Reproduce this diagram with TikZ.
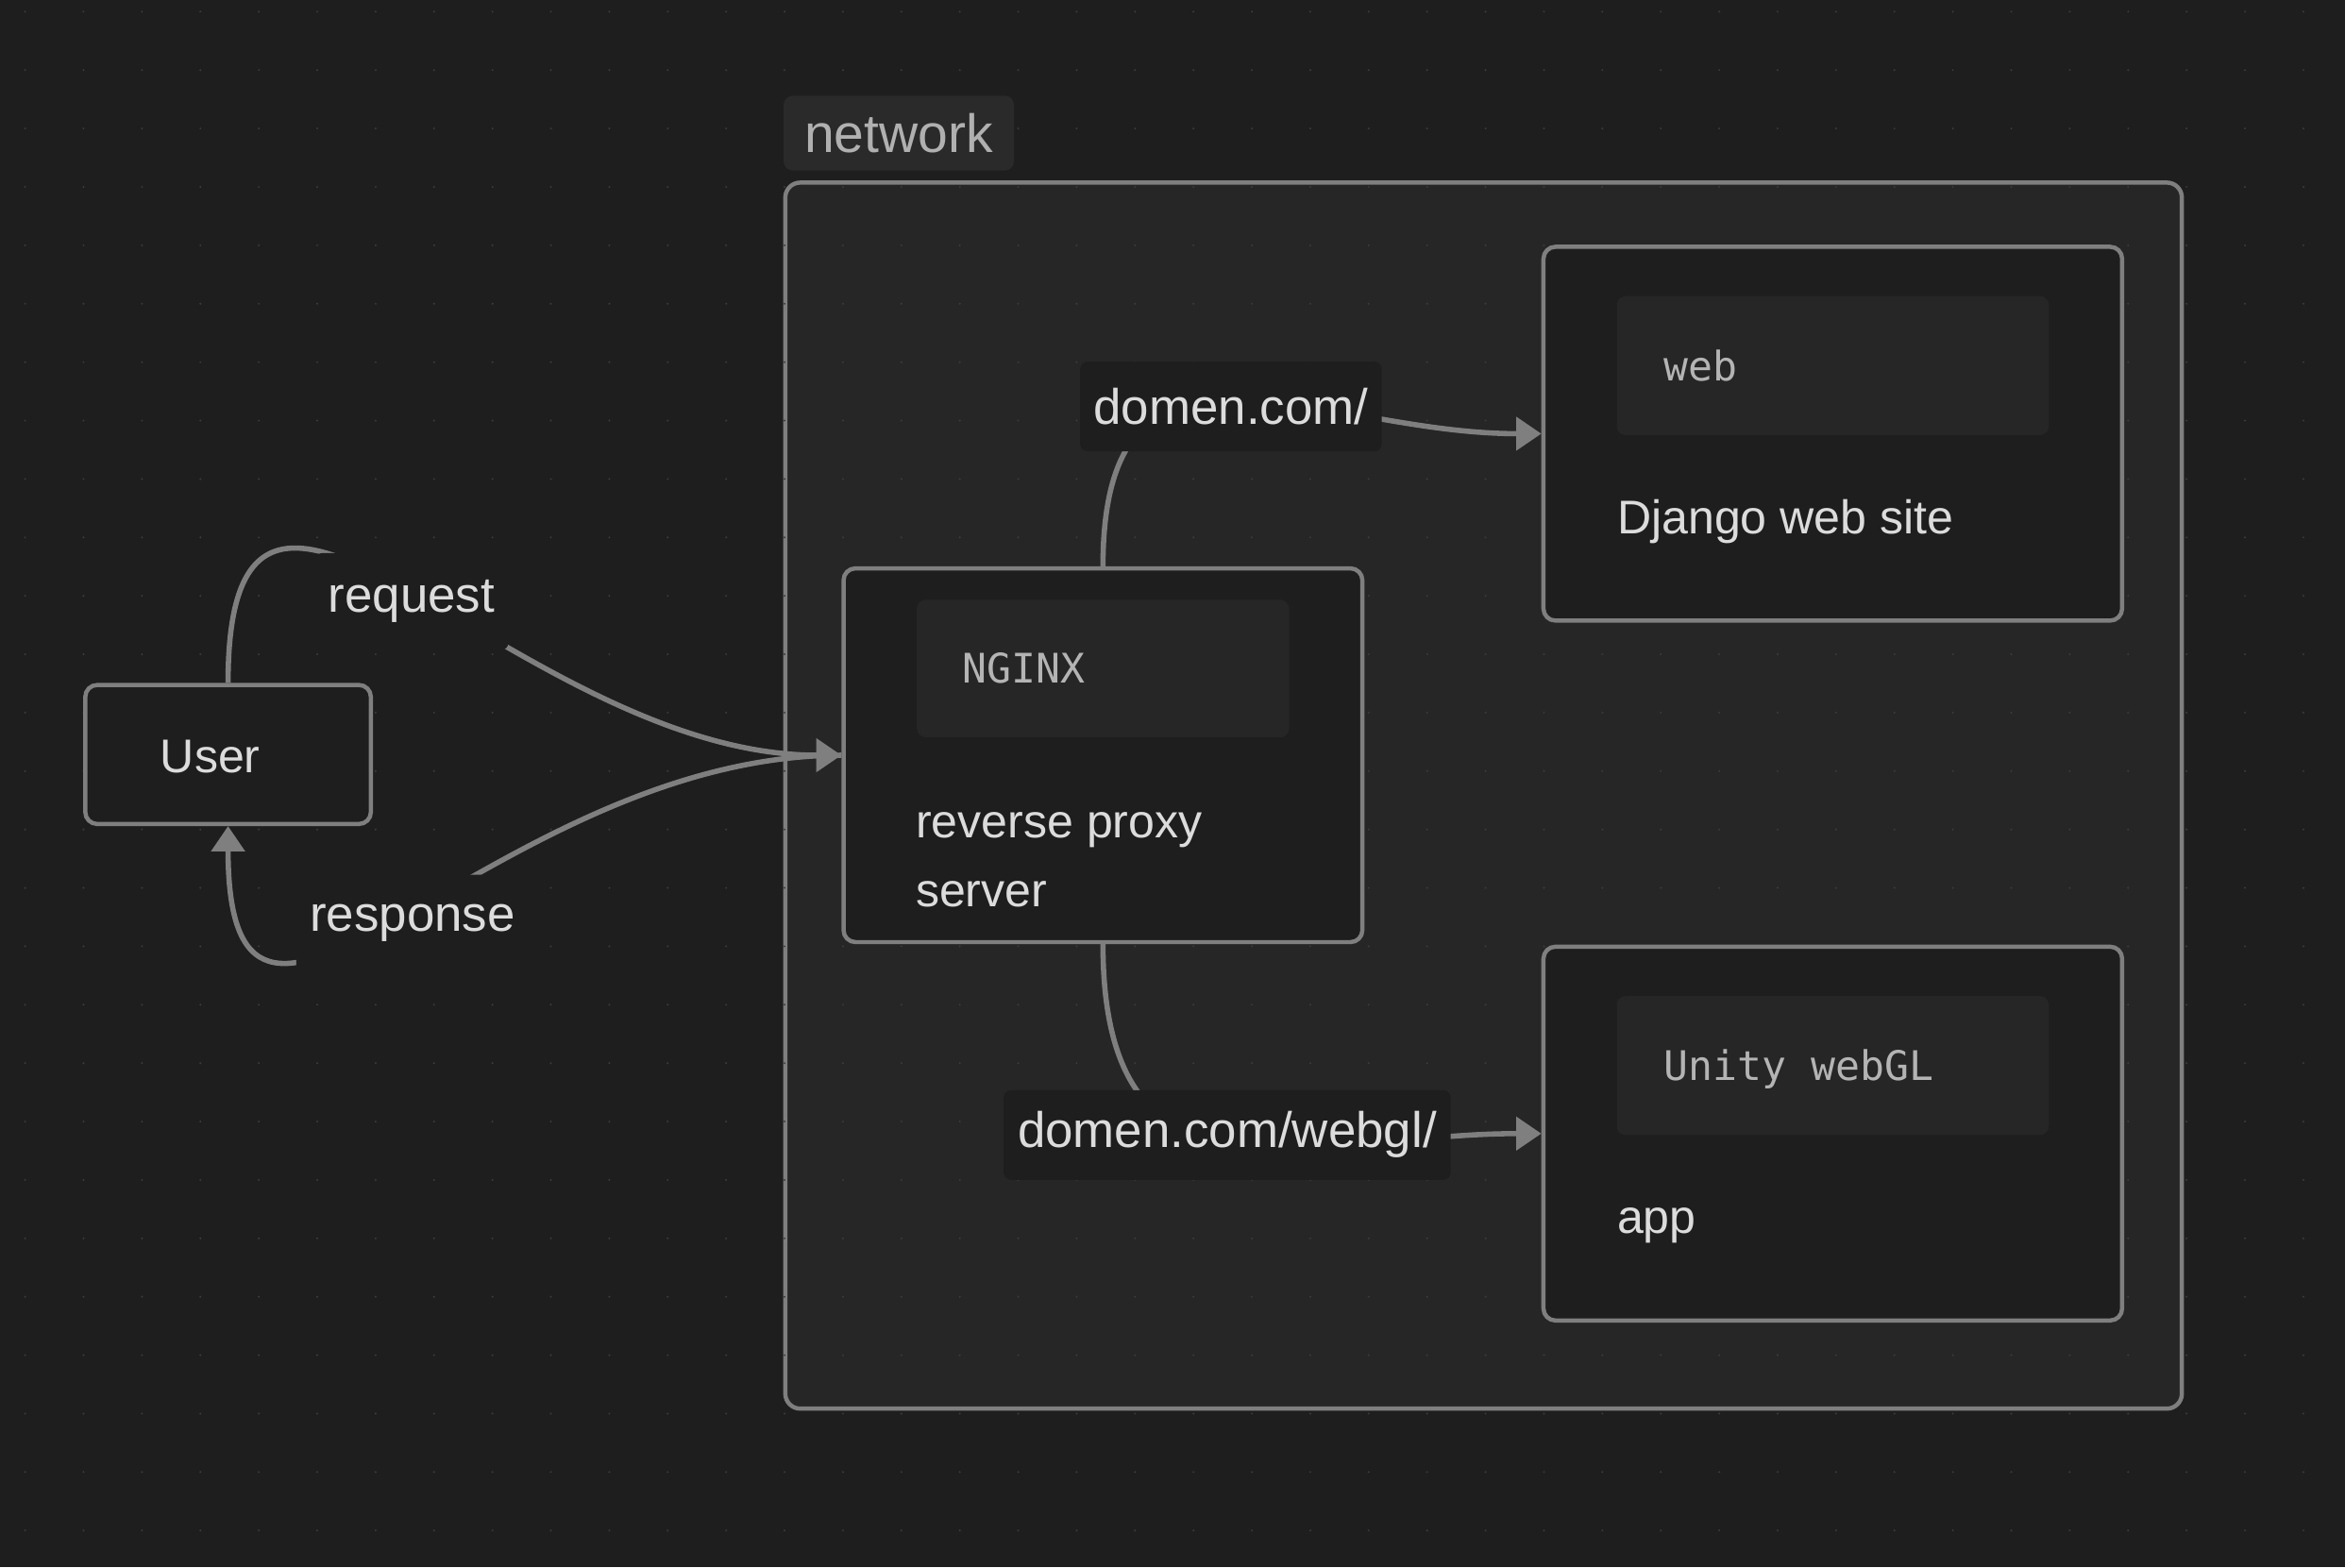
\documentclass[tikz,border=0pt]{standalone}
\usepackage{fontspec}
\setmainfont{Liberation Sans}
\setmonofont{DejaVu Sans Mono}
\usetikzlibrary{arrows.meta}
\definecolor{bgc}{HTML}{1E1E1E}
\definecolor{netc}{HTML}{262626}
\definecolor{linec}{HTML}{7F7F7F}
\definecolor{txtc}{HTML}{DCDCDC}
\definecolor{codec}{HTML}{B4B4B4}
\definecolor{dotc}{HTML}{3C3C3C}
\definecolor{tagc}{HTML}{2A2A2A}
\definecolor{tagtxt}{HTML}{B0B0B0}
\tikzstyle{card}=[rectangle, draw=linec, line width=1.6pt, rounded corners=0.16cm, fill=bgc, inner sep=0pt]
\tikzstyle{group}=[rectangle, draw=linec, line width=1.6pt, rounded corners=0.2cm, fill=netc, inner sep=0pt]
\tikzstyle{codebox}=[rectangle, rounded corners=0.12cm, fill=netc, inner sep=0pt]
\tikzstyle{cardtext}=[text=txtc, inner sep=0pt, anchor=base west, font=\fontsize{18}{26.5}\selectfont]
\tikzstyle{codetext}=[text=codec, inner sep=0pt, anchor=base west, font=\ttfamily\fontsize{15.5}{18}\selectfont]
\tikzstyle{link}=[draw=linec, line width=2pt]
\tikzstyle{toarrow}=[-{Triangle[length=9.6pt,width=12.5pt]}]
\tikzstyle{linklabel}=[fill=bgc, text=txtc, rounded corners=0.1cm, minimum height=1.2cm, inner xsep=0.18cm, font=\fontsize{19}{22}\selectfont]

\begin{document}
\begin{tikzpicture}[x=0.02cm, y=-0.02cm]
\useasboundingbox (0,0) rectangle (1568,1048);
\fill[bgc] (0,0) rectangle (1568,1048);
\node[group, minimum width=18.68cm, minimum height=16.4cm] (network) at (992,532) {};
\foreach \i in {0,...,39}
  \foreach \j in {0,...,26}
    \fill[dotc] (16.8+39.06*\i, 7.8+39.06*\j) circle (0.014cm);
\node[fill=tagc, rounded corners=0.12cm, minimum width=3.08cm, minimum height=1cm, inner sep=0pt, text=tagtxt, font=\fontsize{20.5}{24}\selectfont] (netlabel) at (601,89) {network};

\node[card, minimum width=3.82cm, minimum height=1.86cm] (user) at (152.5,504.5) {};
\node[cardtext] (usertext) at (106.9,516.6) {User};

\node[card, minimum width=6.94cm, minimum height=5cm] (nginx) at (737.5,505) {};
\node[codebox, minimum width=4.98cm, minimum height=1.84cm] (nginxcode) at (737.5,447) {};
\node[codetext] (nginxname) at (643,457) {NGINX};
\node[cardtext, align=left] (nginxtext) at (612,606.5) {reverse proxy\\server};

\node[card, minimum width=7.74cm, minimum height=5cm] (web) at (1225.5,290) {};
\node[codebox, minimum width=5.78cm, minimum height=1.86cm] (webcode) at (1225.5,244.5) {};
\node[codetext] (webname) at (1112.4,254.6) {web};
\node[cardtext] (webtext) at (1081,357) {Django web site};

\node[card, minimum width=7.74cm, minimum height=5cm] (unity) at (1225.5,758) {};
\node[codebox, minimum width=5.78cm, minimum height=1.86cm] (unitycode) at (1225.5,712.5) {};
\node[codetext] (unityname) at (1112.4,722.6) {Unity webGL};
\node[cardtext] (unitytext) at (1081,825) {app};

\draw[link, toarrow] (user.north) .. controls +(0,-228) and +(-217,0) .. (nginx.west) node[linklabel, pos=0.5, minimum height=1.3cm, xshift=-0.02cm, yshift=-0.14cm] (reqlabel) {request};
\draw[link, toarrow] (nginx.west) .. controls +(-234,0) and +(0,218) .. (user.south) node[linklabel, pos=0.5, minimum height=1.3cm, xshift=0.12cm, yshift=-0.14cm] (resplabel) {response};
\draw[link, toarrow] (nginx.north) .. controls +(0,-180) and +(-152,0) .. (web.west) node[linklabel, pos=0.5, minimum width=4.02cm, xshift=-0.08cm, yshift=-0.1cm] (rootlabel) {domen.com/};
\draw[link, toarrow] (nginx.south) .. controls +(0,190) and +(-152,0) .. (unity.west) node[linklabel, pos=0.5, minimum width=5.98cm, xshift=-0.13cm, yshift=0.14cm] (webgllabel) {domen.com/webgl/};
\end{tikzpicture}
\end{document}
